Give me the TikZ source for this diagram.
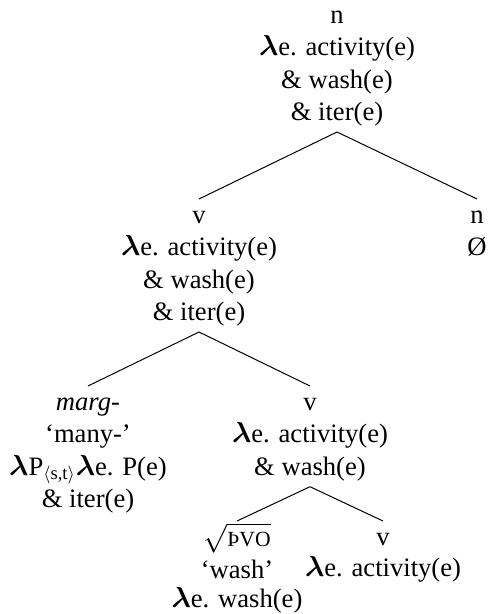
\documentclass[tikz,border=0pt]{standalone}
\usepackage{fontspec}
\setmainfont{Liberation Serif}
\usepackage{amsmath}
\usepackage{tikz}

\tikzset{
  sem/.style = {
    anchor      = north,
    align       = center,
    inner xsep  = 0pt,
    inner ysep  = 0.75pt,
    font        = \fontsize{13.3}{16.15}\selectfont
  },
  branch/.style = {
    draw        = black,
    line width  = 0.5pt
  }
}

\begin{document}
\begin{tikzpicture}[x=0.5pt, y=-0.5pt]
  \useasboundingbox (0,0) rectangle (488,614);

  % top of the tree
  \node[sem] (root) at (337,-1) {\strut n\\
    $\boldsymbol{\lambda}$e. activity(e)\\
    \& wash(e)\\
    \& iter(e)\strut};

  % second level
  \node[sem] (vbig) at (199,199) {\strut v\\
    $\boldsymbol{\lambda}$e. activity(e)\\
    \& wash(e)\\
    \& iter(e)\strut};
  \node[sem] (nnull) at (477,199) {\strut n\\
    Ø\strut};

  % third level
  \node[sem] (marg) at (88,386) {\strut\textit{marg-}\\
    ‘many-’\\
    $\boldsymbol{\lambda}$P$_{\langle\text{s,t}\rangle}\boldsymbol{\lambda}$e. P(e)\\
    \& iter(e)\strut};
  \node[sem] (vmid) at (310,386) {\strut v\\
    $\boldsymbol{\lambda}$e. activity(e)\\
    \& wash(e)\strut};

  % bottom level
  \node[sem] (root-wash) at (237,521) {\strut$\sqrt{\mbox{\fontsize{10.8}{12}\selectfont ÞVO}}$\\[-0.5pt]
    ‘wash’\\[-1.5pt]
    $\boldsymbol{\lambda}$e. wash(e)\strut};
  \node[sem] (vlow) at (383,521) {\strut v\\[-0.5pt]
    $\boldsymbol{\lambda}$e. activity(e)\strut};

  % branches
  \draw[branch] (root.south) -- (vbig.north);
  \draw[branch] (root.south) -- (nnull.north);
  \draw[branch] (vbig.south) -- (marg.north);
  \draw[branch] (vbig.south) -- (vmid.north);
  \draw[branch] (vmid.south) -- (root-wash.north);
  \draw[branch] (vmid.south) -- (vlow.north);
\end{tikzpicture}
\end{document}
